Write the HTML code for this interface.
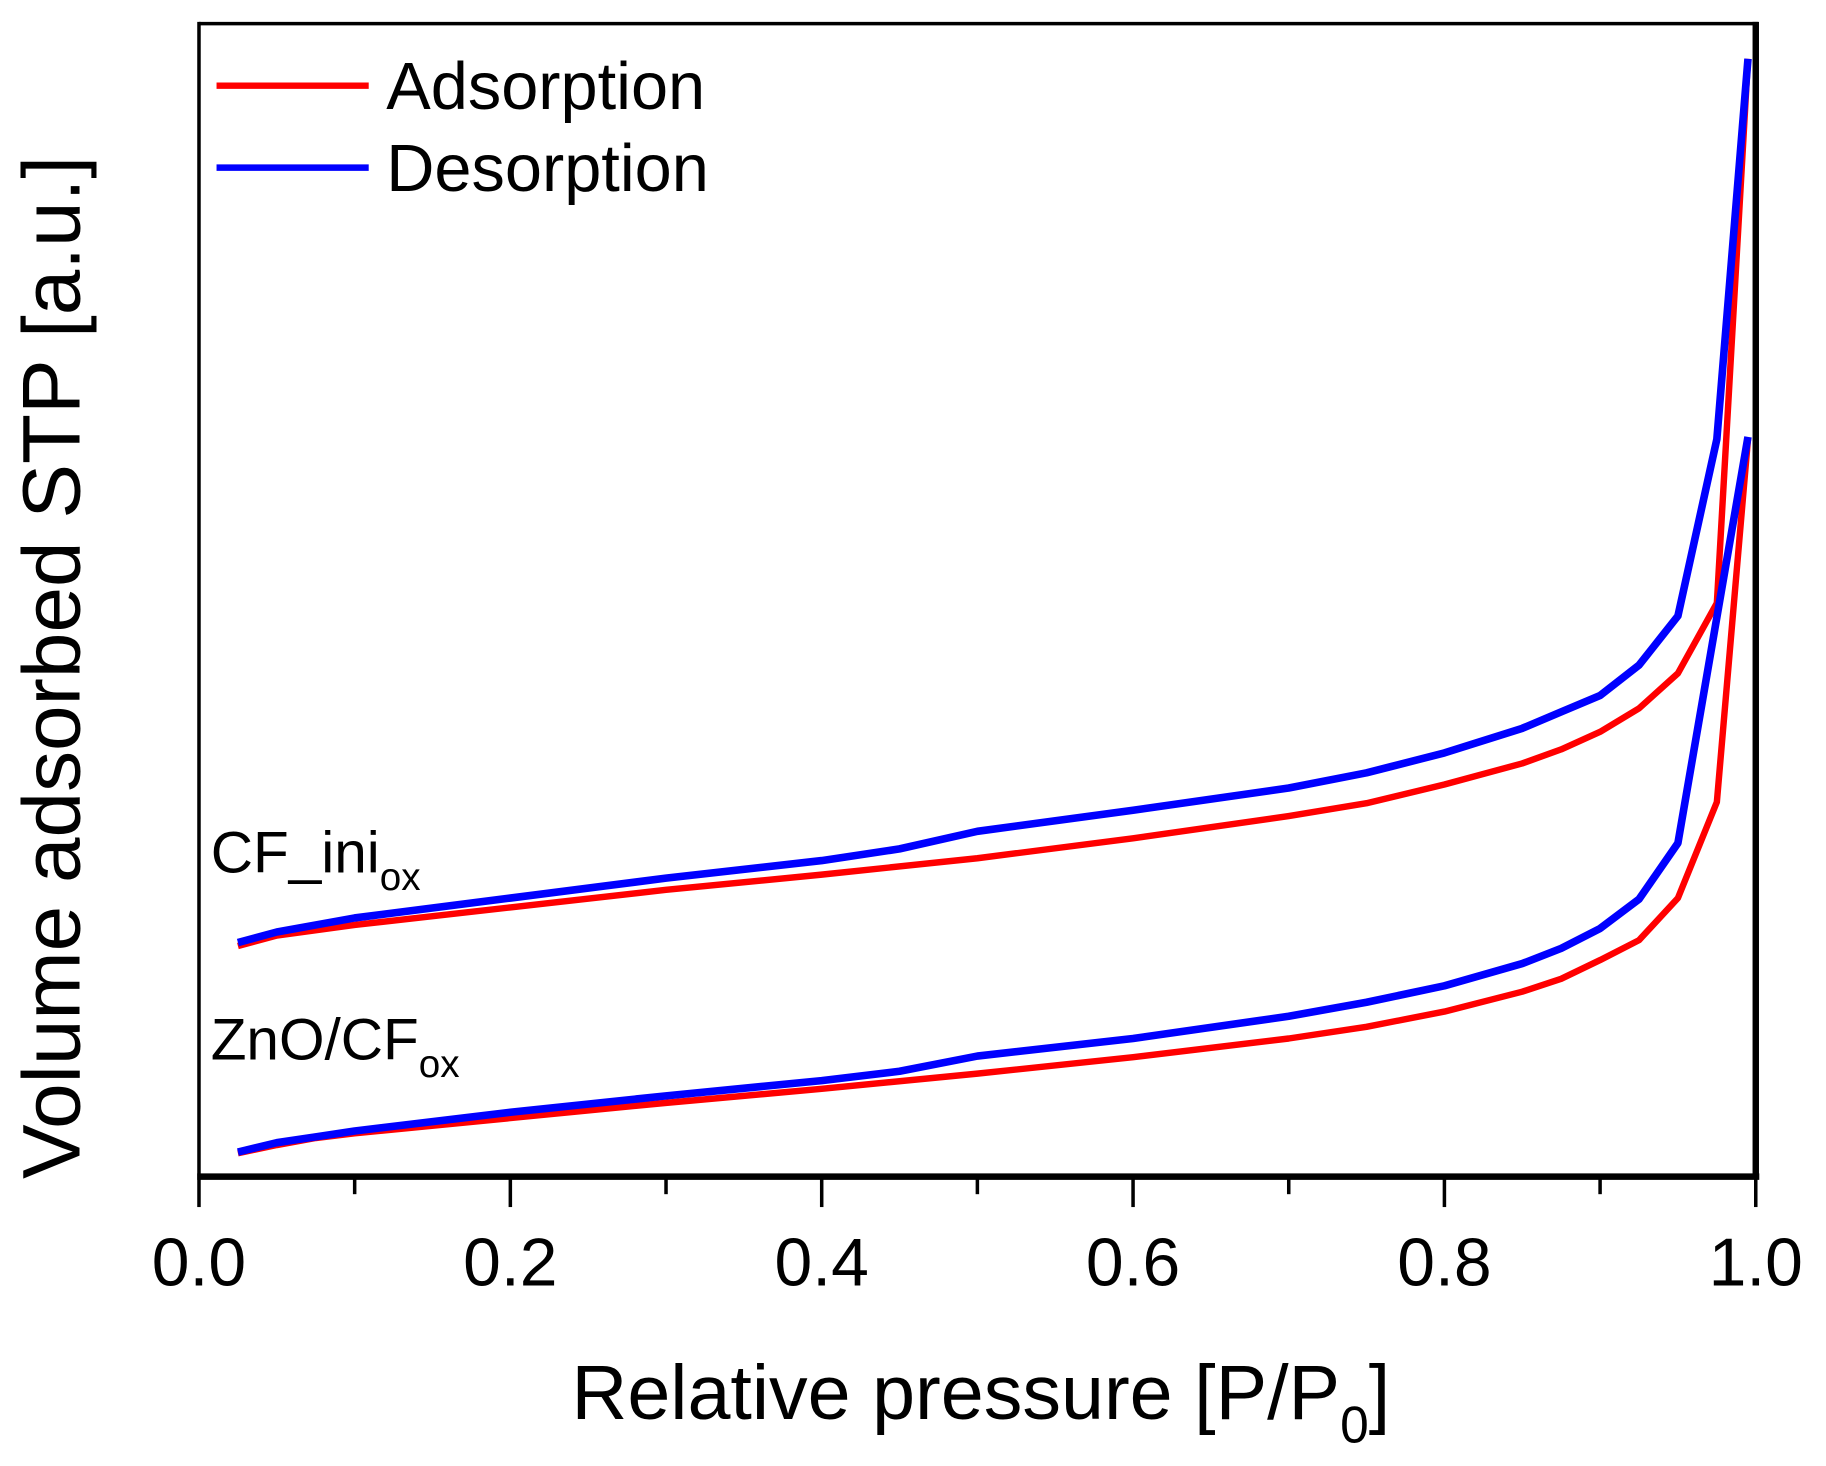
<!DOCTYPE html>
<html><head><meta charset="utf-8"><style>
html,body{margin:0;padding:0;background:#fff;}
svg{display:block;font-family:"Liberation Sans",Arial,sans-serif;}
</style></head><body>
<svg id="chart" width="1826" height="1466" viewBox="0 0 1560 1252" xmlns="http://www.w3.org/2000/svg">
<rect width="1560" height="1252" fill="#fff"/>
<g id="marks"></g>
<g id="axes"></g>
<text transform="translate(68,570) rotate(-90)" text-anchor="middle" font-size="70">Volume adsorbed STP [a.u.]</text>
<text x="838" y="1212" text-anchor="middle" font-size="66">Relative pressure [P/P<tspan font-size="44" dy="20">0</tspan><tspan dy="-20">]</tspan></text>
<g>
<line x1="185" y1="73" x2="315" y2="73" stroke="#ff0000" stroke-width="5.5"/>
<text x="330" y="93" font-size="57">Adsorption</text>
<line x1="185" y1="143" x2="315" y2="143" stroke="#0000ff" stroke-width="5.5"/>
<text x="330" y="163" font-size="57">Desorption</text>
</g>
<text x="180" y="745" font-size="50">CF_ini<tspan font-size="33" dy="15">ox</tspan></text>
<text x="180" y="905" font-size="50">ZnO/CF<tspan font-size="33" dy="15">ox</tspan></text>
</svg>
<script>
const xTicks=[0,0.2,0.4,0.6,0.8,1.0];
const xTickLabels=["0.0","0.2","0.4","0.6","0.8","1.0"];
const cfAdsP=[0.025,0.05,0.1,0.2,0.3,0.4,0.5,0.6,0.7,0.75,0.8,0.85,0.875,0.9,0.925,0.95,0.975,0.995];
const cfAdsV=[197,206,215,230,245,258,272,289,308,319,335,353,365,380,400,430,490,955];
const cfDesP=[0.025,0.05,0.1,0.2,0.3,0.4,0.45,0.5,0.6,0.7,0.75,0.8,0.85,0.875,0.9,0.925,0.95,0.975,0.995];
const cfDesV=[200,209,221,238,255,270,280,295,313,332,345,362,383,397,411,437,479,630,955];
const znAdsP=[0.025,0.05,0.075,0.1,0.2,0.3,0.4,0.5,0.6,0.7,0.75,0.8,0.85,0.875,0.9,0.925,0.95,0.975,0.995];
const znAdsV=[20,27,33,37,50,63,75,88,102,118,128,141,158,169,185,202,238,320,630];
const znDesP=[0.025,0.05,0.075,0.1,0.2,0.3,0.4,0.45,0.5,0.6,0.7,0.75,0.8,0.85,0.875,0.9,0.925,0.95,0.995];
const znDesV=[21,29,34,39,55,69,82,90,103,118,137,149,163,182,195,212,237,285,632];
const NS="http://www.w3.org/2000/svg";
const X0=170,X1=1500,Y0=1005;
function xs(p){return X0+p*(X1-X0);}
function ys(v){return Y0-v;}
const marks=document.getElementById('marks');
function series(P,V,color,w,name){
  const pl=document.createElementNS(NS,'polyline');
  pl.setAttribute('points',P.map((p,i)=>xs(p)+','+ys(V[i])).join(' '));
  pl.setAttribute('fill','none');pl.setAttribute('stroke',color);
  pl.setAttribute('stroke-width',w);pl.setAttribute('stroke-linejoin','round');
  
  
  marks.appendChild(pl);
}
series(cfAdsP,cfAdsV,'#ff0000',5.5,'cf-ini-adsorption-line');
series(znAdsP,znAdsV,'#ff0000',5.5,'zno-cf-adsorption-line');
series(cfDesP,cfDesV,'#0000ff',6.5,'cf-ini-desorption-line');
series(znDesP,znDesV,'#0000ff',6.5,'zno-cf-desorption-line');
const ax=document.getElementById('axes');
function ln(x1,y1,x2,y2,w,name){
  const l=document.createElementNS(NS,'line');
  l.setAttribute('x1',x1);l.setAttribute('y1',y1);l.setAttribute('x2',x2);l.setAttribute('y2',y2);
  l.setAttribute('stroke','#000');l.setAttribute('stroke-width',w);
  
  
  ax.appendChild(l);
}
ln(X0,20,X1+2,20,3,'frame-top');
ln(X0,18.5,X0,Y0,3,'frame-left');
ln(X0-1.5,Y0,X1+3,Y0,5.5,'x-axis-line');
ln(X1,18.5,X1,Y0,5.5,'frame-right');
for(let i=0;i<=10;i++){
  const p=i/10, major=i%2===0;
  ln(xs(p),Y0,xs(p),major?1031:1020,3,major?'x-major-tick':'x-minor-tick');
}
xTicks.forEach((t,i)=>{
  const tx=document.createElementNS(NS,'text');
  tx.setAttribute('x',xs(t));tx.setAttribute('y',1098);
  tx.setAttribute('text-anchor','middle');tx.setAttribute('font-size','58');
  tx.textContent=xTickLabels[i];
  
  
  ax.appendChild(tx);
});
</script>
</body></html>
